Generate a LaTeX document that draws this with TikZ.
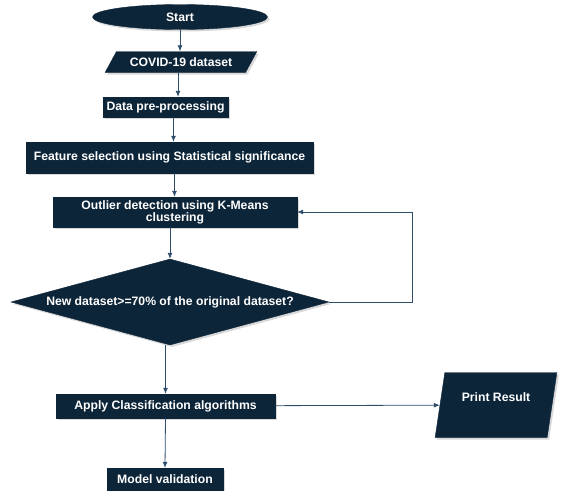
\documentclass[tikz,border=0pt]{standalone}
\usepackage{fontspec}
\setmainfont{Liberation Sans}
\usepackage{xcolor}
\usetikzlibrary{arrows.meta}
\usetikzlibrary{shapes.geometric}
\usetikzlibrary{shadows}
\definecolor{boxnavy}{RGB}{13,37,57}
\definecolor{linkblue}{RGB}{47,78,108}

\begin{document}
\begin{tikzpicture}[x=1pt,y=-1pt,
		box/.style={draw=boxnavy, fill=boxnavy, text=white, inner sep=1pt,
			font=\bfseries\fontsize{12.2}{13}\selectfont, align=center,
			drop shadow={shadow xshift=2pt, shadow yshift=-2pt, fill=black!30}},
		iobox/.style={box, trapezium, trapezium stretches=true},
		link/.style={draw=linkblue, line width=0.8pt, -{Latex[length=6pt,width=5pt]}}]
		\useasboundingbox (0,0) rectangle (572,490);
		\node[box, ellipse, minimum width=175, minimum height=25] (start) at (180,17) {Start};
		\node[iobox, trapezium left angle=50, trapezium right angle=130, minimum width=152, minimum height=21] (covid) at (181,62) {COVID-19 dataset};
		\node[box, minimum width=125, minimum height=20] (prep) at (165.5,107) {Data pre-processing};
		\node[box, minimum width=287, minimum height=31] (feat) at (169.5,157.5) {Feature selection using Statistical significance};
		\node[box, minimum width=244, minimum height=30] (outl) at (175,212) {Outlier detection using K-Means\\[-1pt]clustering};
		\node[box, diamond, aspect=3.7, minimum width=318, minimum height=86] (newds) at (170,302) {New dataset>=70\% of the original dataset?};
		\node[box, minimum width=219, minimum height=24] (apply) at (165.5,406) {Apply Classification algorithms};
		\node[iobox, trapezium left angle=76, trapezium right angle=104, minimum width=122, minimum height=65, text depth=16pt] (print) at (496,405) {Print Result};
		\node[box, minimum width=116, minimum height=22] (model) at (165,479) {Model validation};
		\draw[link] (start.south) -- (start.south |- covid.north);
		\draw[link] ([xshift=-3pt]covid.south) -- ([xshift=-3pt]covid.south |- prep.north);
		\draw[link] ([xshift=8pt]prep.south) -- ([xshift=8pt]prep.south |- feat.north);
		\draw[link] ([xshift=5pt]feat.south) -- ([xshift=5pt]feat.south |- outl.north);
		\draw[link] ([xshift=-5pt]outl.south) -- (newds.north);
		\draw[link] (newds.east) -- ++(83,0) |- (outl.east);
		\draw[link] (newds.south -| apply.north) -- (apply.north);
		\draw[link] (apply) -- (print);
		\draw[link] (apply.south) -- (model.north);
	\end{tikzpicture}
\end{document}
